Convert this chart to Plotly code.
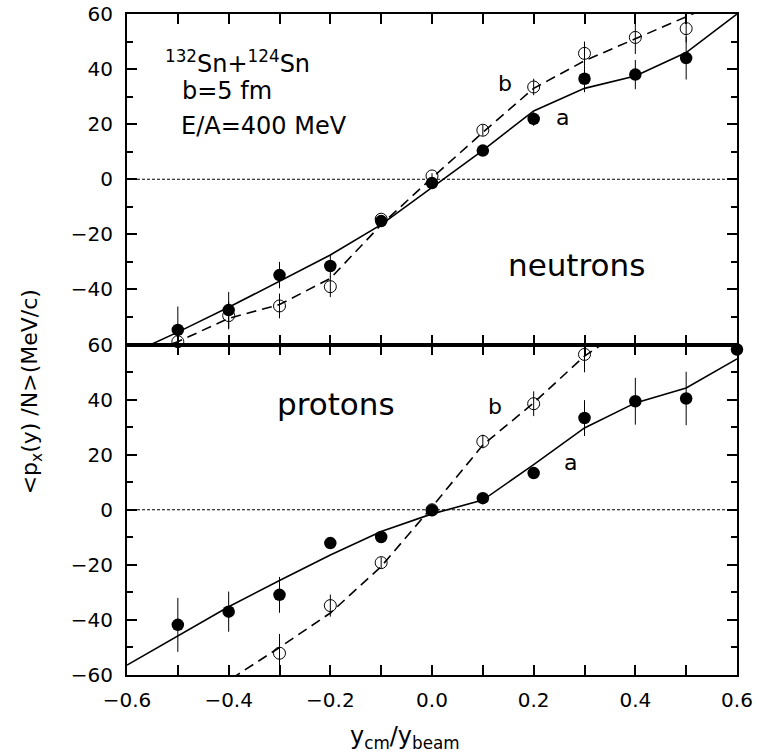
import plotly.graph_objects as go
from plotly.subplots import make_subplots

# ---- data ----
pts_x_n = [-0.5, -0.4, -0.3, -0.2, -0.1, 0.0, 0.1, 0.2, 0.3, 0.4, 0.5]
neu_a_y = [-54.7, -47.5, -34.8, -31.5, -15.2, -1.4, 10.4, 21.9, 36.5, 38.0, 44.0]
neu_a_err = [8.5, 6.6, 4.8, 4.0, 1.0, 0.8, 0.8, 2.5, 4.9, 5.3, 7.8]
neu_b_y = [-59.0, -49.5, -46.0, -39.0, -14.5, 1.2, 17.8, 33.5, 45.7, 51.5, 54.7]
neu_b_err = [2.0, 5.0, 4.5, 3.8, 1.0, 1.0, 2.0, 3.0, 4.3, 6.0, 5.0]

pts_x_pa = [-0.5, -0.4, -0.3, -0.2, -0.1, 0.0, 0.1, 0.2, 0.3, 0.4, 0.5, 0.6]
pro_a_y = [-41.8, -37.0, -30.9, -12.1, -9.9, -0.2, 4.2, 13.3, 33.3, 39.4, 40.4, 58.2]
pro_a_err = [9.8, 7.3, 6.5, 1.0, 1.0, 1.0, 1.0, 2.0, 6.5, 8.5, 9.7, 1.0]
pts_x_pb = [-0.3, -0.2, -0.1, 0.0, 0.1, 0.2, 0.3]
pro_b_y = [-52.1, -34.8, -19.2, 0.0, 24.8, 38.5, 56.4]
pro_b_err = [7.0, 4.0, 2.0, 1.0, 2.5, 4.5, 6.5]

line_x = [-0.6, -0.5, -0.4, -0.3, -0.2, -0.1, 0.0, 0.1, 0.2, 0.3, 0.4, 0.5, 0.6]
neu_line_a = [-64.0, -55.5, -46.5, -37.0, -27.5, -16.5, -3.0, 10.5, 24.8, 33.0, 37.5, 46.0, 60.0]
neu_line_b = [-65.0, -59.0, -50.5, -45.5, -36.0, -16.5, 0.5, 17.0, 33.0, 43.0, 51.0, 59.0, 67.0]
pro_line_a = [-56.4, -45.8, -35.2, -25.7, -16.4, -7.9, -1.5, 3.5, 16.4, 29.7, 38.8, 44.2, 54.8]
line_xb = [-0.5, -0.4, -0.3, -0.2, -0.1, 0.0, 0.1, 0.2, 0.3, 0.4]
pro_line_b = [-74.0, -62.0, -50.0, -37.5, -20.6, 1.0, 23.5, 38.8, 55.8, 68.0]

x_ticks = [-0.6, -0.4, -0.2, 0.0, 0.2, 0.4, 0.6]
y_ticks_top = [-40, -20, 0, 20, 40, 60]
y_ticks_bottom = [-60, -40, -20, 0, 20, 40, 60]

FONT = "DejaVu Sans"

fig = make_subplots(rows=2, cols=1, shared_xaxes=True, vertical_spacing=0)

def add_panel(row, xa, ya, ea, xb, yb, eb, lxa, la, lxb, lb, clip_a, clip_b):
    fig.add_trace(go.Scatter(x=lxa, y=la, mode="lines",
                             line=dict(color="black", width=1.6)), row=row, col=1)
    fig.add_trace(go.Scatter(x=lxb, y=lb, mode="lines",
                             line=dict(color="black", width=1.6, dash="10px,6px")), row=row, col=1)
    fig.add_trace(go.Scatter(x=xb, y=yb, mode="markers", cliponaxis=clip_b,
                             marker=dict(symbol="circle-open", size=12, color="black",
                                         line=dict(width=1)),
                             error_y=dict(type="data", array=eb, color="black",
                                          thickness=1, width=0)), row=row, col=1)
    fig.add_trace(go.Scatter(x=xa, y=ya, mode="markers", cliponaxis=clip_a,
                             marker=dict(symbol="circle", size=12.5, color="black"),
                             error_y=dict(type="data", array=ea, color="black",
                                          thickness=1, width=0)), row=row, col=1)
    fig.add_shape(type="line", x0=-0.6, x1=0.6, y0=0, y1=0,
                  line=dict(color="black", width=1, dash="3px,2px"), row=row, col=1)

add_panel(1, pts_x_n, neu_a_y, neu_a_err, pts_x_n, neu_b_y, neu_b_err,
          line_x, neu_line_a, line_x, neu_line_b, True, False)
add_panel(2, pts_x_pa, pro_a_y, pro_a_err, pts_x_pb, pro_b_y, pro_b_err,
          line_x, pro_line_a, line_xb, pro_line_b, False, True)

xcommon = dict(range=[-0.6, 0.6], showline=True, linewidth=2, linecolor="black",
               mirror="ticks", ticks="inside", ticklen=10, tickwidth=1.5, tickcolor="black",
               tickvals=x_ticks, tickformat=".1f", automargin=False,
               minor=dict(dtick=0.1, tick0=0, ticks="inside", ticklen=10, tickwidth=1.5,
                          tickcolor="black", showgrid=False),
               showgrid=False, zeroline=False,
               tickfont=dict(family=FONT, size=20, color="black"))
fig.update_xaxes(**xcommon)
fig.update_xaxes(showticklabels=False, row=1, col=1)
fig.update_xaxes(ticklabelstandoff=6, row=2, col=1)

ycommon = dict(range=[-60, 60], showline=True, linewidth=2, linecolor="black",
               mirror="ticks", ticks="inside", ticklen=10, tickwidth=1.5, tickcolor="black",
               minor=dict(dtick=10, tick0=0, ticks="inside", ticklen=6, tickwidth=1.5,
                          tickcolor="black", showgrid=False),
               showgrid=False, zeroline=False, ticklabelstandoff=8, automargin=False,
               tickfont=dict(family=FONT, size=20, color="black"))
fig.update_yaxes(**ycommon)
fig.update_yaxes(tickvals=y_ticks_top,
                 ticktext=[str(v).replace("-", "\u2212") for v in y_ticks_top],
                 row=1, col=1)
fig.update_yaxes(tickvals=y_ticks_bottom,
                 ticktext=[str(v).replace("-", "\u2212") for v in y_ticks_bottom],
                 row=2, col=1)

ann = []
def A(text, x, y, xref, yref, size, xanchor="left", angle=0):
    ann.append(dict(text=text, x=x, y=y, xref=xref, yref=yref, showarrow=False,
                    xanchor=xanchor, yanchor="middle", textangle=angle,
                    font=dict(family=FONT, size=size, color="black")))

A("<sup>132</sup>Sn+<sup>124</sup>Sn", -0.53, 42.5, "x", "y", 24)
A("b=5 fm", -0.495, 32.0, "x", "y", 24)
A("E/A=400 MeV", -0.497, 19.5, "x", "y", 24)
A("neutrons", 0.145, -31.0, "x", "y", 31)
A("b", 0.143, 34.7, "x", "y", 22, "center")
A("a", 0.257, 22.6, "x", "y", 22, "center")
A("protons", -0.308, 38.5, "x2", "y2", 31)
A("b", 0.124, 37.5, "x2", "y2", 22, "center")
A("a", 0.273, 17.0, "x2", "y2", 22, "center")
A("y<sub>cm</sub>/y<sub>beam</sub>", 0.456, -0.094, "paper", "paper", 24, "center")
A("<p<sub>x</sub>(y) /N>(MeV/c)", -0.157, 0.428, "paper", "paper", 22, "center", -90)

fig.update_layout(width=758, height=753, margin=dict(l=127, r=21, t=14, b=78),
                  paper_bgcolor="white", plot_bgcolor="white", showlegend=False,
                  annotations=ann, font=dict(family=FONT, color="black"))

fig.write_html("out.html")
